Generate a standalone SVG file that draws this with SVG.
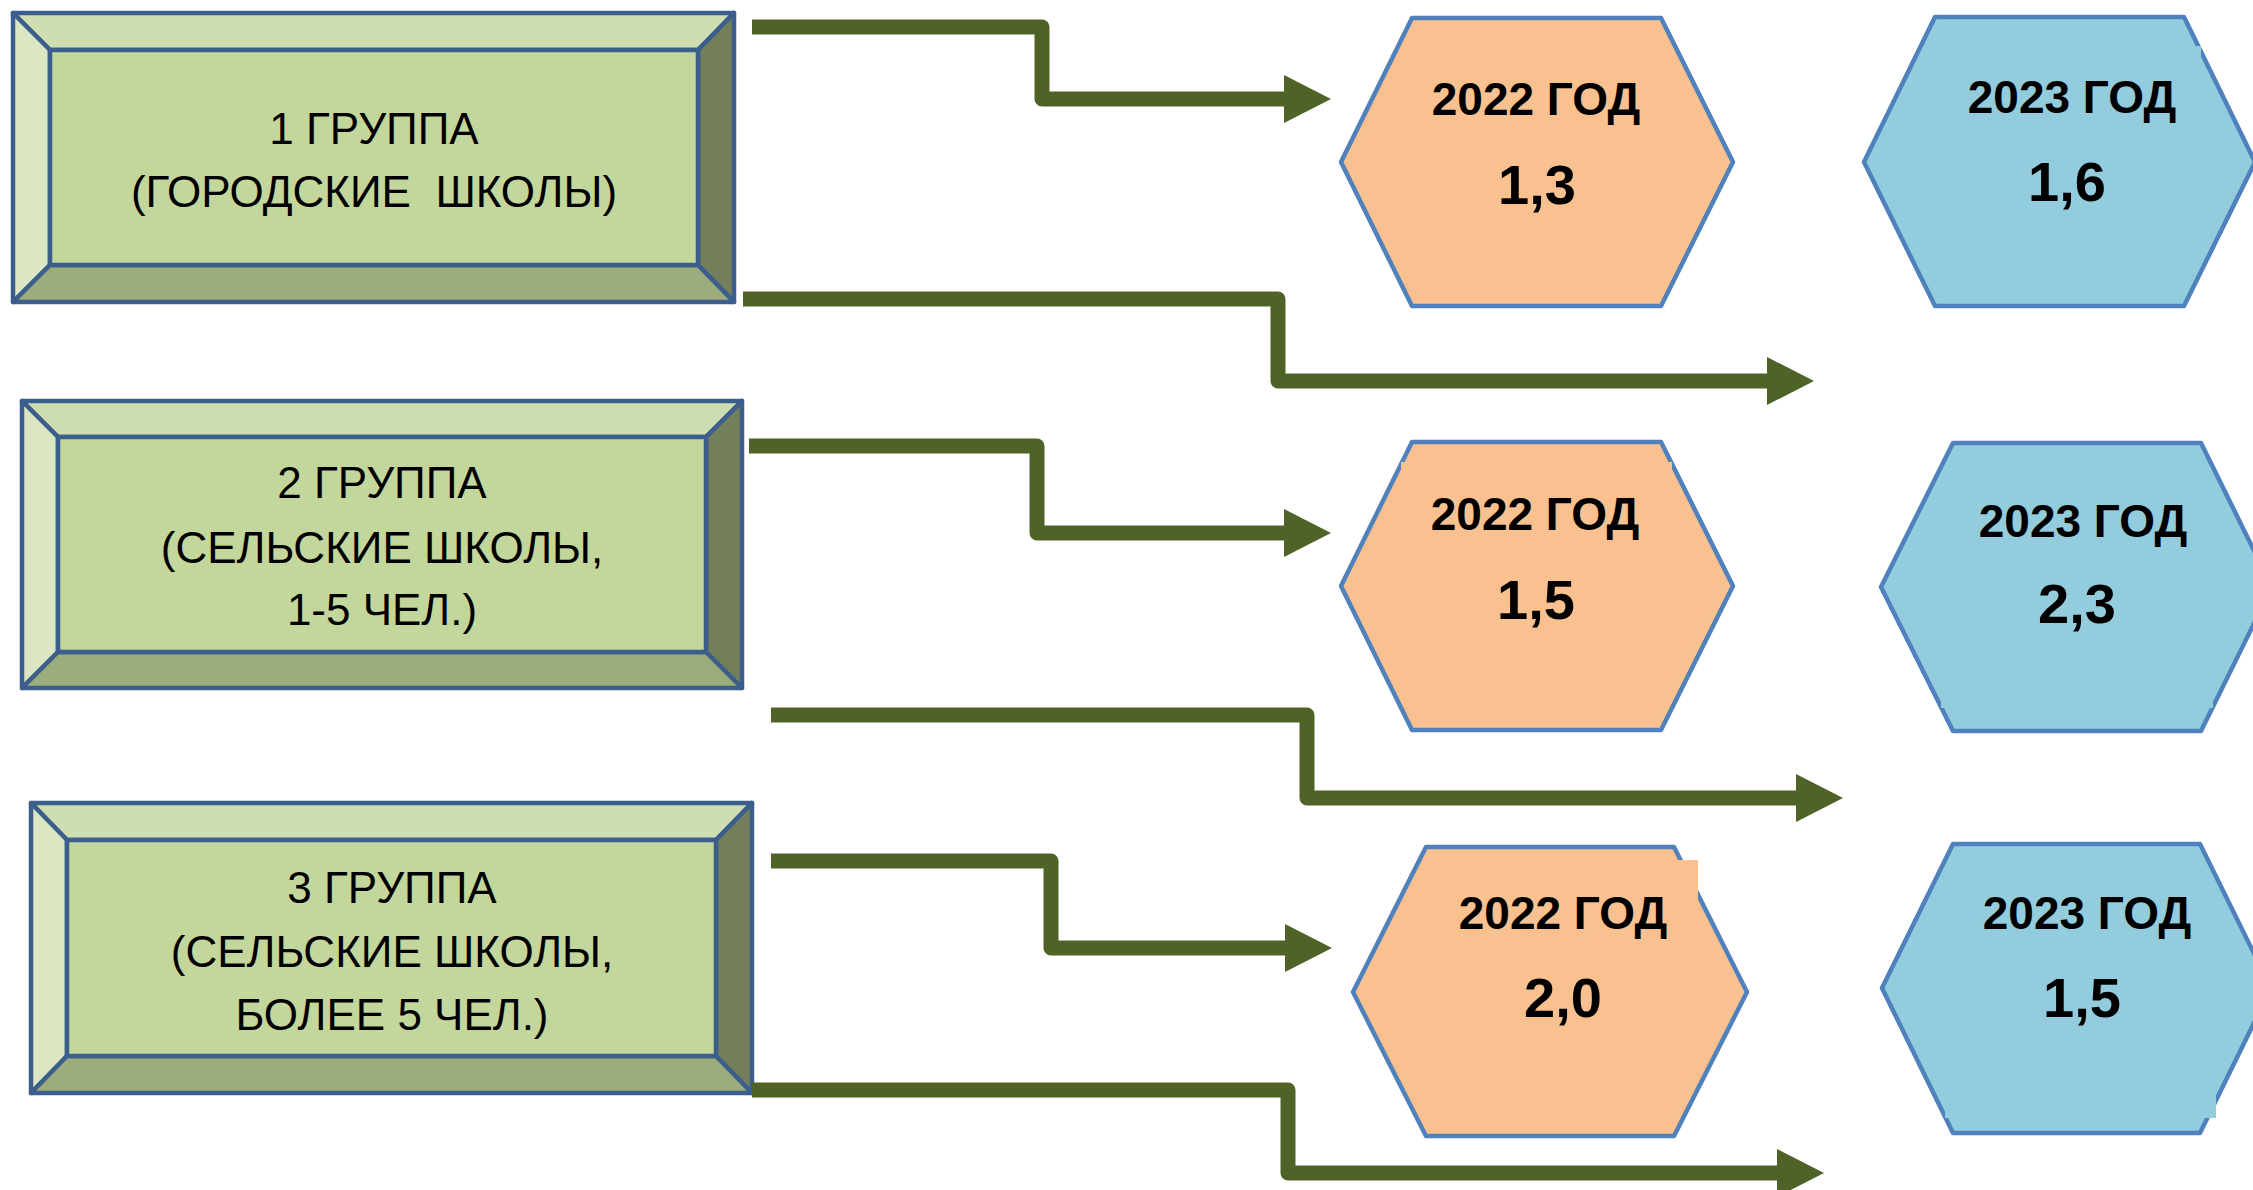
<svg xmlns="http://www.w3.org/2000/svg" width="2253" height="1190" viewBox="0 0 2253 1190">
<defs>
<style>
.bx{stroke:#3b5e8c;stroke-width:4.5;stroke-linejoin:round}
.bt{fill:#cfdeb0}.bl{fill:#dbe6c3}.br{fill:#737f5a}.bb{fill:#9cac7b}.bi{fill:#c3d69b}
.lbl{font-family:"Liberation Sans",Arial,sans-serif;font-size:44px;fill:#000;text-anchor:middle}
.hexo{fill:#f9c190;stroke:#4f81bd;stroke-width:4.5;stroke-linejoin:round}
.hexb{fill:#93cddd;stroke:#4f81bd;stroke-width:4.5;stroke-linejoin:round}
.yr{font-family:"Liberation Sans",Arial,sans-serif;font-weight:bold;font-size:46px;fill:#000;text-anchor:middle}
.val{font-family:"Liberation Sans",Arial,sans-serif;font-weight:bold;font-size:56px;fill:#000;text-anchor:middle}
.con{fill:none;stroke:#4f6228;stroke-width:15;stroke-linejoin:round;stroke-linecap:butt}
</style>
<marker id="ah" viewBox="0 0 47 48" refX="0" refY="24" markerWidth="47" markerHeight="48" markerUnits="userSpaceOnUse" orient="auto">
<path d="M0,0 L47,24 L0,48 Z" fill="#4f6228"/>
</marker>
</defs>
<rect width="2253" height="1190" fill="#ffffff"/>

<g id="group1">
<polygon class="bx bt" points="13,13 734,13 698,50 50,50"/>
<polygon class="bx bl" points="13,13 50,50 50,265 13,302"/>
<polygon class="bx br" points="734,13 734,302 698,265 698,50"/>
<polygon class="bx bb" points="13,302 50,265 698,265 734,302"/>
<rect class="bx bi" x="50" y="50" width="648" height="215"/>
<text class="lbl" x="374" y="144">1 ГРУППА</text>
<text class="lbl" x="374" y="207" xml:space="preserve">(ГОРОДСКИЕ  ШКОЛЫ)</text>
</g>

<g id="group2">
<polygon class="bx bt" points="22,401 742,401 706,437 58,437"/>
<polygon class="bx bl" points="22,401 58,437 58,652 22,688"/>
<polygon class="bx br" points="742,401 742,688 706,652 706,437"/>
<polygon class="bx bb" points="22,688 58,652 706,652 742,688"/>
<rect class="bx bi" x="58" y="437" width="648" height="215"/>
<text class="lbl" x="382" y="498">2 ГРУППА</text>
<text class="lbl" x="382" y="563">(СЕЛЬСКИЕ ШКОЛЫ,</text>
<text class="lbl" x="382" y="625">1-5 ЧЕЛ.)</text>
</g>

<g id="group3">
<polygon class="bx bt" points="31,803 752,803 716,840 67,840"/>
<polygon class="bx bl" points="31,803 67,840 67,1056 31,1093"/>
<polygon class="bx br" points="752,803 752,1093 716,1056 716,840"/>
<polygon class="bx bb" points="31,1093 67,1056 716,1056 752,1093"/>
<rect class="bx bi" x="67" y="840" width="649" height="216"/>
<text class="lbl" x="392" y="903">3 ГРУППА</text>
<text class="lbl" x="392" y="967">(СЕЛЬСКИЕ ШКОЛЫ,</text>
<text class="lbl" x="392" y="1030">БОЛЕЕ 5 ЧЕЛ.)</text>
</g>

<g id="g1-2022">
<polygon class="hexo" points="1412,18 1661,18 1733,162 1661,306 1412,306 1341,162"/>
<text class="yr" x="1536" y="115">2022 ГОД</text>
<text class="val" x="1537" y="204">1,3</text>
</g>

<g id="g1-2023">
<polygon class="hexb" points="1935,17 2184,17 2255,162 2184,306 1935,306 1864,162"/>
<rect x="1940" y="46" width="261" height="200" fill="#93cddd"/>
<text class="yr" x="2072" y="113">2023 ГОД</text>
<text class="val" x="2067" y="201">1,6</text>
</g>

<g id="g2-2022">
<polygon class="hexo" points="1412,442 1661,442 1733,586 1661,730 1412,730 1341,586"/>
<rect x="1401" y="462" width="271" height="100" fill="#f9c190"/>
<text class="yr" x="1535" y="530">2022 ГОД</text>
<text class="val" x="1536" y="619">1,5</text>
</g>

<g id="g2-2023">
<polygon class="hexb" points="1953,443 2201,443 2272,587 2201,731 1953,731 1881,587"/>
<rect x="1941" y="600" width="272" height="108" fill="#93cddd"/>
<text class="yr" x="2083" y="537">2023 ГОД</text>
<text class="val" x="2077" y="623">2,3</text>
</g>

<g id="g3-2022">
<polygon class="hexo" points="1426,847 1674,847 1747,992 1674,1136 1426,1136 1353,992"/>
<rect x="1500" y="860" width="198" height="40" fill="#f9c190"/>
<text class="yr" x="1563" y="929">2022 ГОД</text>
<text class="val" x="1563" y="1017">2,0</text>
</g>

<g id="g3-2023">
<polygon class="hexb" points="1953,844 2200,844 2271,988 2200,1133 1953,1133 1882,988"/>
<rect x="1945" y="1000" width="271" height="118" fill="#93cddd"/>
<text class="yr" x="2087" y="929">2023 ГОД</text>
<text class="val" x="2082" y="1017">1,5</text>
</g>

<g id="connectors">
<path class="con" marker-end="url(#ah)" d="M752,27 H1042 V99 H1284"/>
<path class="con" marker-end="url(#ah)" d="M743,299 H1278 V381 H1767"/>
<path class="con" marker-end="url(#ah)" d="M749,446 H1037 V533 H1284"/>
<path class="con" marker-end="url(#ah)" d="M771,715 H1307 V798 H1796"/>
<path class="con" marker-end="url(#ah)" d="M771,861 H1051 V948 H1285"/>
<path class="con" marker-end="url(#ah)" d="M752,1090 H1288 V1173 H1777"/>
</g>
</svg>
